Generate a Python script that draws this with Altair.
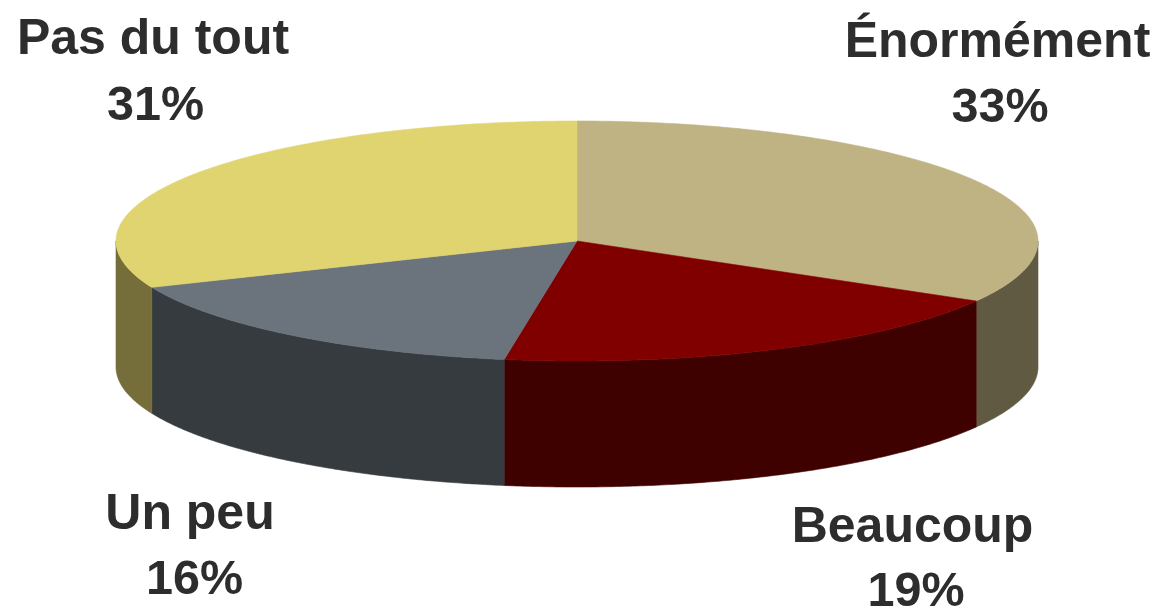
import math
import altair as alt

# Survey answers, clockwise from twelve o'clock
labels = ["Énormément", "Beaucoup", "Un peu", "Pas du tout"]
shares = [33, 19, 16, 31]
top_colors = ["#BFB283", "#800000", "#6B737C", "#E0D470"]
side_colors = ["#605A42", "#3F0000", "#363B3F", "#756D3A"]

# Pie geometry in page pixels
CX, CY = 577.0, 241.0
RX, RY = 461.0, 120.0
DEPTH = 126.0
WIDTH, HEIGHT = 1157, 612


def rim(angle, drop=0.0):
    """Point on the squashed rim, angle in degrees clockwise from the top."""
    a = math.radians(angle)
    return [CX + RX * math.sin(a), CY - RY * math.cos(a) + drop]


def sweep(start, end):
    steps = max(2, int(abs(end - start) * 2))
    return [start + (end - start) * i / steps for i in range(steps + 1)]


def feature(ring, fill):
    return {
        "type": "Feature",
        "properties": {"fill": fill},
        "geometry": {"type": "Polygon", "coordinates": [ring + [ring[0]]]},
    }


total = sum(shares)
walls, tops = [], []
cumulative = 0
for share, top, side in zip(shares, top_colors, side_colors):
    start = cumulative / total * 360
    cumulative += share
    end = cumulative / total * 360

    # Slice lid: centre plus its arc
    tops.append(feature([[CX, CY]] + [rim(t) for t in sweep(start, end)], top))

    # Outer wall: only the part on the front half of the rim is visible
    lo, hi = max(start, 90.0), min(end, 270.0)
    if hi > lo:
        angles = sweep(lo, hi)
        ring = [rim(t) for t in angles] + [rim(t, DEPTH) for t in reversed(angles)]
        walls.append(feature(ring, side))


def shapes(features):
    return (
        alt.Chart(alt.Data(values=features))
        .mark_geoshape(strokeWidth=0.6)
        .encode(
            fill=alt.Fill("properties.fill:N", scale=None),
            stroke=alt.Stroke("properties.fill:N", scale=None),
        )
        .project(type="identity", scale=1, translate=[0, 0])
    )


def caption(text, x, y, size):
    return (
        alt.Chart(alt.Data(values=[{"text": text}]))
        .mark_text(
            font="Liberation Sans",
            fontSize=size,
            fontWeight="bold",
            color="#2D2D2D",
            align="center",
            baseline="alphabetic",
        )
        .encode(text="text:N", x=alt.value(x), y=alt.value(y))
    )


NAME_SIZE = 50
PERCENT_SIZE = 48.5

captions = [
    caption(labels[0], 997.5, 57, NAME_SIZE),
    caption(f"{shares[0]}%", 1000, 122, PERCENT_SIZE),
    caption(labels[1], 912.5, 542, NAME_SIZE),
    caption(f"{shares[1]}%", 916, 606, PERCENT_SIZE),
    caption(labels[2], 190, 529, NAME_SIZE),
    caption(f"{shares[2]}%", 194.5, 594, PERCENT_SIZE),
    caption(labels[3], 153, 54, NAME_SIZE),
    caption(f"{shares[3]}%", 155.5, 120, PERCENT_SIZE),
]

chart = (
    alt.layer(shapes(walls), shapes(tops), *captions)
    .properties(
        width=WIDTH,
        height=HEIGHT,
        padding=0,
        autosize=alt.AutoSizeParams(type="none"),
        background="white",
    )
    .configure_view(stroke=None)
)

chart.save("out.html", embed_options={"renderer": "svg", "actions": False})
